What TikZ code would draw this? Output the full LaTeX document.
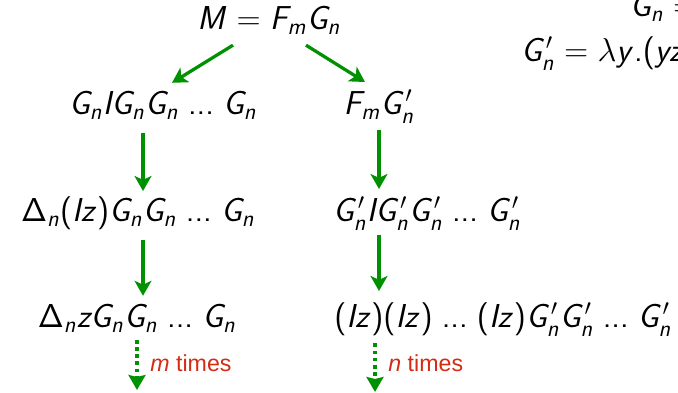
\documentclass[tikz,border=0pt]{standalone}
\usepackage[no-math]{fontspec}
\setmainfont{Liberation Sans}
\usepackage{amsmath}
\usetikzlibrary{arrows.meta, calc}
% sans serif math letters, as on the slide
\DeclareSymbolFont{sfletters}{OT1}{cmss}{m}{sl}
\DeclareSymbolFont{sfops}{OT1}{cmss}{m}{n}
\DeclareMathSymbol{M}{\mathalpha}{sfletters}{`M}
\DeclareMathSymbol{F}{\mathalpha}{sfletters}{`F}
\DeclareMathSymbol{G}{\mathalpha}{sfletters}{`G}
\DeclareMathSymbol{I}{\mathalpha}{sfletters}{`I}
\DeclareMathSymbol{m}{\mathalpha}{sfletters}{`m}
\DeclareMathSymbol{n}{\mathalpha}{sfletters}{`n}
\DeclareMathSymbol{y}{\mathalpha}{sfletters}{`y}
\DeclareMathSymbol{z}{\mathalpha}{sfletters}{`z}
\DeclareMathSymbol{\Delta}{\mathalpha}{sfops}{"01}
\DeclareMathSymbol{=}{\mathrel}{sfops}{`=}
\DeclareMathSymbol{(}{\mathopen}{sfops}{`(}
\DeclareMathSymbol{)}{\mathclose}{sfops}{`)}
\DeclareMathSymbol{.}{\mathord}{sfops}{`.}
\newcommand{\sdots}{\mkern2mu\mathinner{...}\mkern2mu}
\definecolor{stepgreen}{RGB}{0,145,0}
\definecolor{countred}{RGB}{210,45,20}
\tikzset{
  term/.style={anchor=base, inner sep=2pt, font=\LARGE},
  arrow/.style={-{Stealth[length=7.8pt, width=8.8pt, inset=2pt]}, line width=1.7pt, draw=stepgreen},
  dotarrow/.style={-{Stealth[length=7.8pt, width=8.8pt, inset=1pt]}, line width=2pt,
                   dash pattern=on 2pt off 1.7pt, draw=stepgreen},
  count/.style={anchor=base west, inner sep=0pt, text=countred,
                font=\fontsize{12.1}{14}\selectfont},
}

\begin{document}
\begin{tikzpicture}[x=0.522pt, y=-0.522pt]
  \useasboundingbox (0,0) rectangle (678,393);
  \clip (0,0) rectangle (678,393);

  % Start term and definitions
  \node[term] (top) at (269,30) {$M = F_m G_n$};
  \node[term, anchor=base west] (gdef) at (626,17) {$G_n =$};
  \node[term, anchor=base west] (gpdef) at (517,62) {$G'_n = \lambda y.(yz$};

  % Left reduction
  \node[term] (l1) at (163,115) {$G_n I G_n G_n \sdots G_n$};
  \node[term] (l2) at (138,222) {$\Delta_n (Iz) G_n G_n \sdots G_n$};
  \node[term] (l3) at (137,328) {$\Delta_n z G_n G_n \sdots G_n$};

  % Right reduction
  \node[term] (r1) at (379,115) {$F_m G'_n$};
  \node[term] (r2) at (427,222) {$G'_n I G'_n G'_n \sdots G'_n$};
  \node[term] (r3) at (503,328) {$(Iz)(Iz) \sdots (Iz) G'_n G'_n \sdots G'_n$};

  % Columns of the vertical arrows
  \coordinate (lcol) at (143,0);
  \coordinate (rcol) at (379,0);
  \coordinate (lend) at (137,390);
  \coordinate (rend) at (375,392);

  % Arrows
  \draw[arrow] ($(top.south)+(-36,6)$) -- ($(l1.north)+(9,-5)$);
  \draw[arrow] ($(top.south)+(37,6)$) -- ($(r1.north)+(-14,-4)$);
  \draw[arrow] ($(l1.south -| lcol)+(0,9)$) -- ($(l2.north -| lcol)+(0,-2)$);
  \draw[arrow] ($(l2.south -| lcol)+(0,6)$) -- ($(l3.north -| lcol)+(0,-5)$);
  \draw[arrow] ($(r1.south -| rcol)+(0,3)$) -- ($(r2.north -| rcol)+(0,-4)$);
  \draw[arrow] ($(r2.south -| rcol)+(0,1)$) -- ($(r3.north -| rcol)+(0,-8)$);
  \draw[dotarrow] ($(l3.south -| lend)+(0,3)$) -- (lend);
  \draw[dotarrow] ($(r3.south -| rend)+(0,3)$) -- (rend);

  % Repetition counts
  \node[count] (lcount) at (150,372) {\textit{m} times};
  \node[count] (rcount) at (388,372) {\textit{n} times};
\end{tikzpicture}
\end{document}
